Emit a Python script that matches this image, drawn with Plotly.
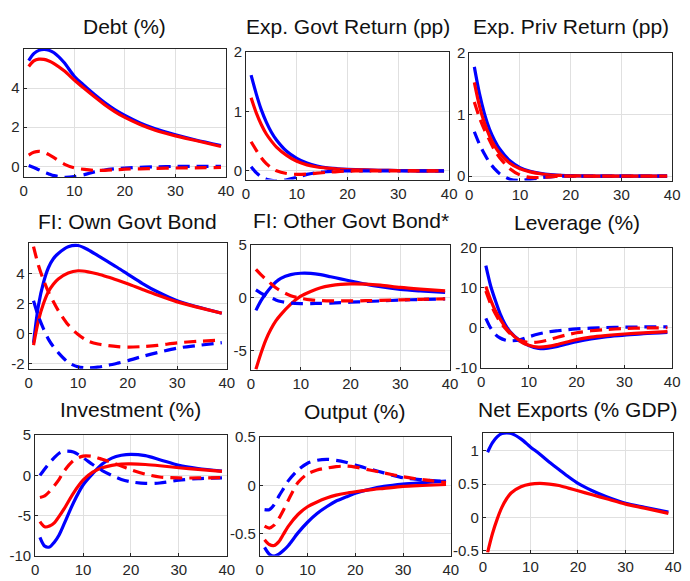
import plotly.graph_objects as go

# ---------------- data ----------------
X = [1, 2, 3, 4, 5, 6, 8, 10, 12, 14, 16, 18, 20, 23, 26, 30, 34, 39]

titles = ["Debt (%)", "Exp. Govt Return (pp)", "Exp. Priv Return (pp)",
          "FI: Own Govt Bond", "FI: Other Govt Bond*", "Leverage (%)",
          "Investment (%)", "Output (%)", "Net Exports (% GDP)"]

x_ticks = [0, 10, 20, 30, 40]
x_ticklabels = ["0", "10", "20", "30", "40"]

# Debt
debt_blue = [5.4, 5.75, 5.92, 5.97, 5.93, 5.8, 5.3, 4.6, 4.12, 3.67, 3.26, 2.9, 2.6, 2.22, 1.92, 1.61, 1.35, 1.07]
debt_red = [5.1, 5.38, 5.47, 5.46, 5.38, 5.25, 4.88, 4.41, 3.97, 3.55, 3.15, 2.8, 2.5, 2.14, 1.85, 1.56, 1.32, 1.02]
debt_blue_d = [0.05, -0.05, -0.17, -0.28, -0.38, -0.47, -0.55, -0.52, -0.42, -0.28, -0.18, -0.12, -0.08, -0.04, -0.02, 0.0, 0.0, 0.0]
debt_red_d = [0.58, 0.72, 0.77, 0.72, 0.6, 0.45, 0.12, -0.07, -0.15, -0.2, -0.2, -0.17, -0.14, -0.12, -0.1, -0.08, -0.07, -0.05]

# Exp. Govt Return
egr_blue = [1.61, 1.30, 1.03, 0.82, 0.65, 0.52, 0.33, 0.21, 0.13, 0.08, 0.05, 0.035, 0.025, 0.015, 0.01, 0.005, 0.0, 0.0]
egr_red = [1.23, 0.98, 0.78, 0.62, 0.5, 0.4, 0.26, 0.16, 0.1, 0.065, 0.045, 0.03, 0.02, 0.015, 0.01, 0.005, 0.0, 0.0]
egr_blue_d = [0.07, -0.03, -0.1, -0.14, -0.16, -0.17, -0.15, -0.11, -0.06, -0.03, -0.015, -0.005, 0.0, 0.0, 0.0, 0.0, 0.0, 0.0]
egr_red_d = [0.49, 0.35, 0.22, 0.12, 0.05, 0.0, -0.045, -0.06, -0.055, -0.04, -0.025, -0.012, -0.005, 0.0, 0.0, 0.0, 0.0, 0.0]

# Exp. Priv Return
epr_blue = [1.77, 1.34, 1.01, 0.76, 0.58, 0.44, 0.25, 0.14, 0.08, 0.045, 0.025, 0.015, 0.008, 0.003, 0.0, 0.0, 0.0, 0.0]
epr_red = [1.52, 1.14, 0.86, 0.65, 0.49, 0.37, 0.21, 0.12, 0.07, 0.04, 0.02, 0.012, 0.006, 0.003, 0.0, 0.0, 0.0, 0.0]
epr_blue_d = [0.72, 0.52, 0.36, 0.22, 0.12, 0.04, -0.05, -0.07, -0.05, -0.025, -0.01, 0.0, 0.0, 0.0, 0.0, 0.0, 0.0, 0.0]
epr_red_d = [1.2, 0.95, 0.75, 0.58, 0.42, 0.3, 0.12, 0.02, -0.02, -0.02, -0.01, 0.0, 0.0, 0.0, 0.0, 0.0, 0.0, 0.0]

# FI: Own Govt Bond
own_blue = [-0.6, 1.9, 3.4, 4.4, 5.0, 5.35, 5.8, 5.88, 5.6, 5.2, 4.8, 4.4, 3.98, 3.35, 2.8, 2.2, 1.8, 1.37]
own_red = [-0.75, 0.9, 2.0, 2.8, 3.3, 3.65, 4.05, 4.2, 4.13, 3.98, 3.78, 3.56, 3.33, 2.95, 2.58, 2.13, 1.78, 1.37]
own_blue_d = [2.2, 1.15, 0.35, -0.35, -0.85, -1.25, -1.9, -2.2, -2.27, -2.22, -2.1, -1.95, -1.79, -1.5, -1.25, -0.95, -0.78, -0.59]
own_red_d = [5.8, 4.55, 3.6, 2.8, 2.15, 1.55, 0.6, -0.05, -0.48, -0.68, -0.78, -0.85, -0.88, -0.85, -0.77, -0.6, -0.5, -0.42]

# FI: Other Govt Bond
oth_blue = [-1.2, -0.3, 0.4, 1.0, 1.5, 1.85, 2.2, 2.33, 2.32, 2.2, 2.0, 1.8, 1.6, 1.3, 1.05, 0.8, 0.65, 0.5]
oth_red = [-6.8, -5.3, -4.0, -3.0, -2.2, -1.6, -0.6, 0.15, 0.6, 0.95, 1.15, 1.27, 1.32, 1.3, 1.2, 0.98, 0.82, 0.65]
oth_blue_d = [0.75, 0.45, 0.2, 0.0, -0.2, -0.35, -0.5, -0.55, -0.55, -0.53, -0.5, -0.46, -0.42, -0.36, -0.3, -0.22, -0.16, -0.1]
oth_red_d = [2.7, 2.2, 1.75, 1.35, 0.95, 0.65, 0.2, -0.05, -0.2, -0.27, -0.3, -0.3, -0.3, -0.28, -0.25, -0.2, -0.15, -0.1]

# Leverage
lev_blue = [15.5, 10.5, 6.8, 3.5, 1.0, -0.8, -3.0, -4.4, -5.1, -5.0, -4.6, -4.0, -3.4, -2.7, -2.2, -1.8, -1.4, -1.1]
lev_red = [10.3, 7.0, 4.3, 2.2, 0.4, -1.0, -3.2, -4.3, -4.75, -4.6, -4.1, -3.5, -2.9, -2.3, -1.9, -1.5, -1.2, -0.9]
lev_blue_d = [2.4, 0.0, -1.6, -2.5, -3.0, -3.2, -3.0, -2.2, -1.5, -1.0, -0.7, -0.45, -0.25, -0.05, 0.1, 0.2, 0.25, 0.3]
lev_red_d = [9.2, 6.0, 3.5, 1.5, 0.0, -1.3, -3.0, -3.6, -3.5, -3.0, -2.3, -1.7, -1.2, -0.7, -0.4, -0.15, 0.0, 0.05]

# Investment
inv_blue = [-7.7, -8.8, -8.9, -8.3, -7.4, -6.1, -3.4, -1.2, 0.2, 1.4, 2.15, 2.5, 2.62, 2.45, 1.95, 1.25, 0.85, 0.53]
inv_red = [-5.75, -6.4, -6.3, -5.9, -5.1, -4.2, -2.2, -0.6, 0.4, 0.95, 1.25, 1.4, 1.42, 1.35, 1.2, 0.95, 0.75, 0.5]
inv_blue_d = [0.0, 0.8, 1.55, 2.2, 2.75, 3.0, 2.9, 2.2, 1.35, 0.6, 0.0, -0.5, -0.8, -1.0, -0.95, -0.6, -0.4, -0.3]
inv_red_d = [-2.75, -2.55, -2.0, -1.3, -0.5, 0.5, 1.85, 2.4, 2.35, 2.0, 1.6, 1.15, 0.7, 0.15, -0.2, -0.32, -0.32, -0.28]

# Output
out_blue = [-0.64, -0.71, -0.73, -0.71, -0.67, -0.62, -0.49, -0.38, -0.29, -0.22, -0.16, -0.12, -0.08, -0.04, -0.01, 0.015, 0.03, 0.045]
out_red = [-0.56, -0.61, -0.62, -0.58, -0.5, -0.42, -0.3, -0.22, -0.17, -0.13, -0.1, -0.08, -0.065, -0.045, -0.03, -0.01, 0.0, 0.01]
out_blue_d = [-0.25, -0.25, -0.2, -0.11, -0.03, 0.05, 0.16, 0.23, 0.26, 0.27, 0.26, 0.24, 0.21, 0.17, 0.13, 0.08, 0.06, 0.04]
out_red_d = [-0.42, -0.44, -0.41, -0.34, -0.25, -0.15, 0.03, 0.12, 0.16, 0.18, 0.195, 0.2, 0.19, 0.16, 0.13, 0.09, 0.06, 0.03]

# Net Exports
nx_blue = [0.98, 1.12, 1.21, 1.26, 1.27, 1.26, 1.18, 1.06, 0.95, 0.83, 0.72, 0.61, 0.51, 0.4, 0.31, 0.21, 0.15, 0.08]
nx_red = [-0.53, -0.25, -0.03, 0.15, 0.28, 0.37, 0.46, 0.5, 0.51, 0.5, 0.48, 0.44, 0.4, 0.34, 0.28, 0.2, 0.14, 0.06]

panels = [
    (debt_blue, debt_red, debt_blue_d, debt_red_d),
    (egr_blue, egr_red, egr_blue_d, egr_red_d),
    (epr_blue, epr_red, epr_blue_d, epr_red_d),
    (own_blue, own_red, own_blue_d, own_red_d),
    (oth_blue, oth_red, oth_blue_d, oth_red_d),
    (lev_blue, lev_red, lev_blue_d, lev_red_d),
    (inv_blue, inv_red, inv_blue_d, inv_red_d),
    (out_blue, out_red, out_blue_d, out_red_d),
    (nx_blue, nx_red, None, None),
]

y_ranges = [[-0.55, 6.0], [-0.147, 2.0], [-0.07, 2.0], [-2.33, 6.05], [-6.85, 5.0],
            [-10, 20], [-10, 5], [-0.727, 0.5], [-0.53, 1.27]]
y_ticks = [[0, 2, 4], [0, 1, 2], [0, 1, 2], [-2, 0, 2, 4], [-5, 0, 5],
           [-10, 0, 10, 20], [-10, -5, 0, 5], [-0.5, 0, 0.5], [-0.5, 0, 0.5, 1]]
y_ticklabels = [["0", "2", "4"], ["0", "1", "2"], ["0", "1", "2"], ["-2", "0", "2", "4"],
                ["-5", "0", "5"], ["-10", "0", "10", "20"], ["-10", "-5", "0", "5"],
                ["-0.5", "0", "0.5"], ["-0.5", "0", "0.5", "1"]]

# ---------------- layout (pixel boxes) ----------------
W, H = 690, 581
boxes = [  # left, right, top, bottom in pixels
    (20, 226, 41, 173.3), (246.3, 453, 44.3, 175.7), (473.5, 680, 45, 176.7),
    (25, 226.7, 241, 370.7), (251.3, 454, 243.3, 371.7), (485.5, 680, 245.7, 370),
    (31.7, 226.7, 439, 563.3), (260.3, 454.7, 441, 563.3), (487.3, 681, 436.7, 560),
]
title_y = [18, 18, 18, 219, 218, 220, 413, 415, 413]

BLUE = "#0000ff"
RED = "#ff0000"
AX = "#262626"
FONT = "Liberation Sans, Arial, Helvetica, sans-serif"
LW = 3.2
DASH = "12px,7px"

fig = go.Figure()
annotations = []
layout = dict(width=W, height=H, margin=dict(l=0, r=0, t=0, b=0),
              paper_bgcolor="white", plot_bgcolor="white", showlegend=False,
              font=dict(family=FONT, size=15, color=AX))

for i, (series, yr, yt, ytl, box, ty, title) in enumerate(
        zip(panels, y_ranges, y_ticks, y_ticklabels, boxes, title_y, titles)):
    n = i + 1
    xa = "x" if n == 1 else f"x{n}"
    ya = "y" if n == 1 else f"y{n}"
    bs, rs, bd, rd = series
    styles = [(bs, BLUE, "solid"), (rs, RED, "solid"), (bd, BLUE, DASH), (rd, RED, DASH)]
    for ys, col, dash in styles:
        if ys is None:
            continue
        fig.add_trace(go.Scatter(x=X, y=ys, mode="lines", xaxis=xa, yaxis=ya,
                                 line=dict(color=col, width=LW, dash=dash, shape="spline", smoothing=0.8),
                                 hoverinfo="skip"))
    l, r, t, b = box
    common = dict(showline=True, linecolor=AX, linewidth=1, mirror=True,
                  showgrid=True, gridcolor="#e0e0e0", gridwidth=1,
                  zeroline=False, ticks="inside", ticklen=3, tickcolor=AX,
                  tickfont=dict(family=FONT, size=15, color=AX))
    layout["xaxis" if n == 1 else f"xaxis{n}"] = dict(
        common, domain=[l / W, r / W], range=[0, 40], tickvals=x_ticks, ticktext=x_ticklabels,
        anchor=ya, fixedrange=True)
    layout["yaxis" if n == 1 else f"yaxis{n}"] = dict(
        common, domain=[1 - b / H, 1 - t / H], range=yr, tickvals=yt, ticktext=ytl,
        anchor=xa, fixedrange=True)
    annotations.append(dict(text=title, xref="paper", yref="paper", x=(l + r) / 2 / W,
                            y=1 - ty / H, xanchor="center", yanchor="middle", showarrow=False,
                            font=dict(family=FONT, size=21, color="#111111")))

layout["annotations"] = annotations
fig.update_layout(**layout)

post = ("var gd=document.getElementById('{plot_id}');"
        "gd.style.position='fixed';gd.style.left='0px';gd.style.top='0px';"
        "document.body.style.margin='0';document.body.style.padding='0';"
        "document.body.style.overflow='hidden';document.documentElement.style.overflow='hidden';")
fig.write_html("out.html", config={"displayModeBar": False, "responsive": False},
               post_script=post)
